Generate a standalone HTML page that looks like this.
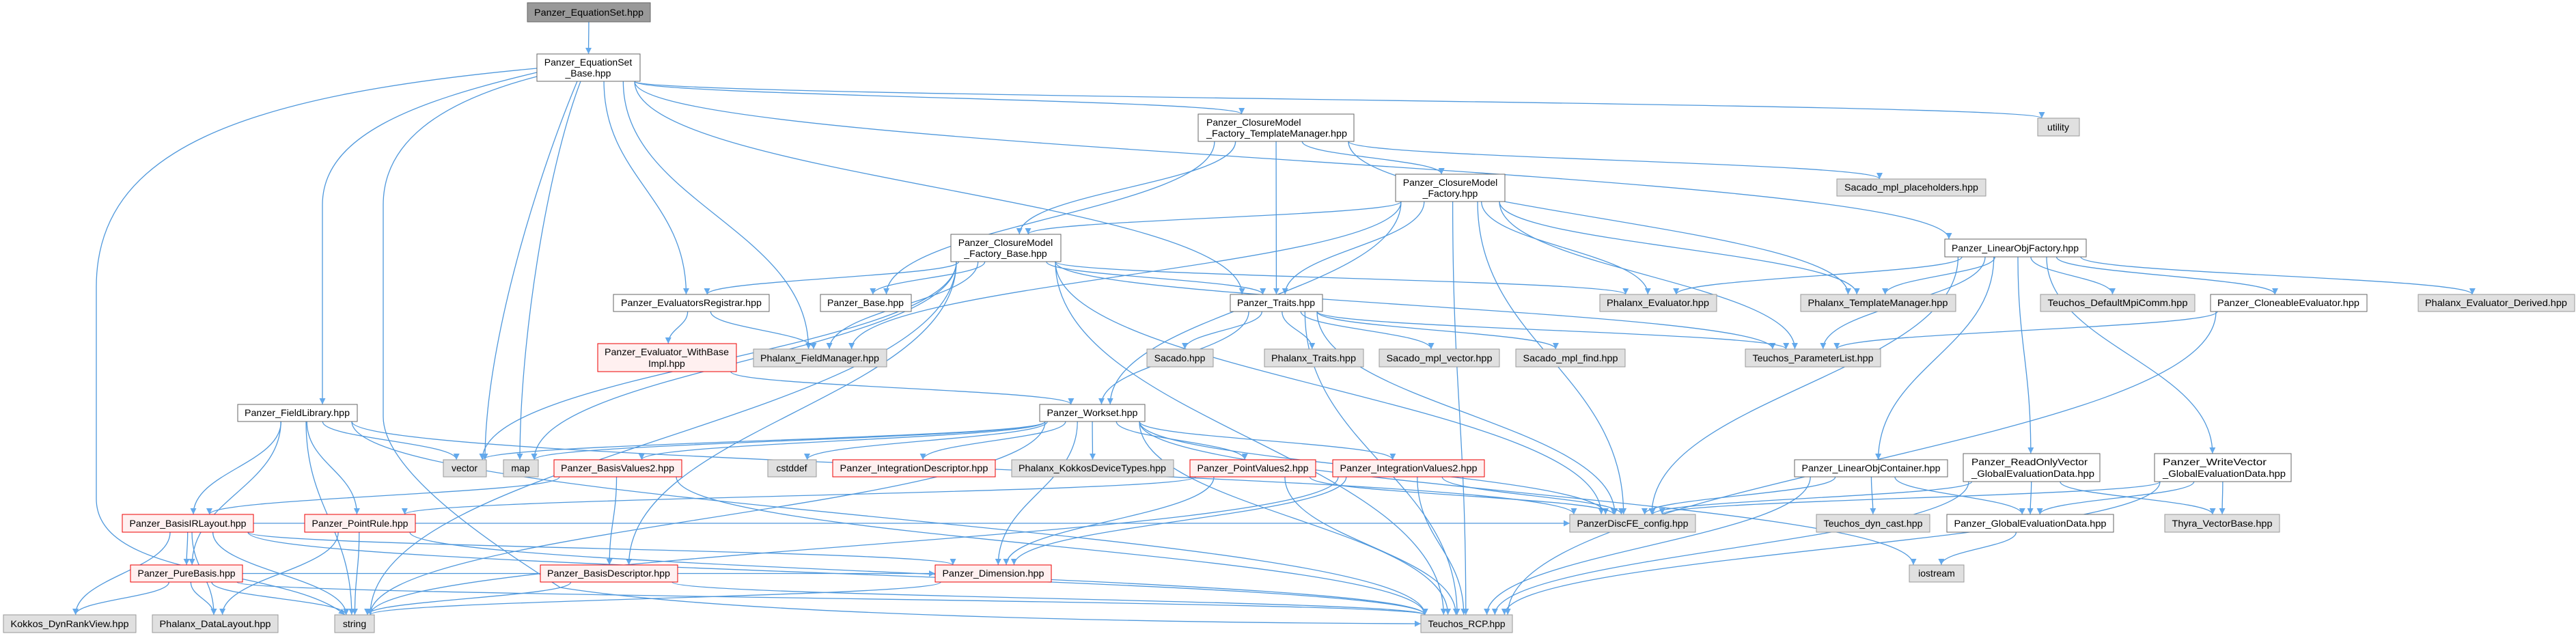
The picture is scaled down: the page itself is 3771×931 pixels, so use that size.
<!DOCTYPE html>
<html><head><meta charset="utf-8"><style>
html,body{margin:0;padding:0;background:#fff;}
svg{display:block;}
text{font-family:"Liberation Sans",sans-serif;font-size:14px;fill:#000;}
</style></head><body>
<svg id="g" xmlns="http://www.w3.org/2000/svg" width="3771" height="931" viewBox="0 0 3771 931">
<defs><marker id="a" viewBox="0 0 10 10" refX="10" refY="5" markerWidth="9" markerHeight="9" markerUnits="userSpaceOnUse" orient="auto"><path d="M0,0L10,5L0,10z" fill="#63a9ec"/></marker></defs>
<g id="edges" fill="none" stroke="#4f98dc" stroke-width="1.3"></g>
<g id="nodes">
<rect x="772" y="4" width="180" height="28" fill="#999" stroke="#666"/><text x="862" y="23" text-anchor="middle" textLength="160" lengthAdjust="spacingAndGlyphs">Panzer_EquationSet.hpp</text>
<rect x="786" y="79" width="151" height="40" fill="#fff" stroke="#666"/><text x="861" y="96" text-anchor="middle">Panzer_EquationSet</text><text x="861" y="112" text-anchor="middle">_Base.hpp</text>
<rect x="1754" y="167" width="228" height="40" fill="#fff" stroke="#666"/><text x="1766" y="184">Panzer_ClosureModel</text><text x="1766" y="200" textLength="206" lengthAdjust="spacingAndGlyphs">_Factory_TemplateManager.hpp</text>
<rect x="2983" y="173" width="61" height="26" fill="#e0e0e0" stroke="#999"/><text x="3013" y="191" text-anchor="middle">utility</text>
<rect x="2043" y="255" width="160" height="40" fill="#fff" stroke="#666"/><text x="2123" y="272" text-anchor="middle">Panzer_ClosureModel</text><text x="2123" y="288" text-anchor="middle">_Factory.hpp</text>
<rect x="2689" y="262" width="218" height="25" fill="#e0e0e0" stroke="#999"/><text x="2798" y="279" text-anchor="middle" textLength="196" lengthAdjust="spacingAndGlyphs">Sacado_mpl_placeholders.hpp</text>
<rect x="1392" y="343" width="161" height="40" fill="#fff" stroke="#666"/><text x="1472" y="360" text-anchor="middle">Panzer_ClosureModel</text><text x="1472" y="376" text-anchor="middle">_Factory_Base.hpp</text>
<rect x="2847" y="350" width="207" height="26" fill="#fff" stroke="#666"/><text x="2950" y="368" text-anchor="middle" textLength="186" lengthAdjust="spacingAndGlyphs">Panzer_LinearObjFactory.hpp</text>
<rect x="898" y="431" width="228" height="25" fill="#fff" stroke="#666"/><text x="1012" y="448" text-anchor="middle" textLength="206" lengthAdjust="spacingAndGlyphs">Panzer_EvaluatorsRegistrar.hpp</text>
<rect x="1201" y="431" width="133" height="25" fill="#fff" stroke="#666"/><text x="1267" y="448" text-anchor="middle" textLength="112" lengthAdjust="spacingAndGlyphs">Panzer_Base.hpp</text>
<rect x="1801" y="431" width="135" height="25" fill="#fff" stroke="#666"/><text x="1868" y="448" text-anchor="middle" textLength="114" lengthAdjust="spacingAndGlyphs">Panzer_Traits.hpp</text>
<rect x="2342" y="431" width="171" height="25" fill="#e0e0e0" stroke="#999"/><text x="2427" y="448" text-anchor="middle" textLength="150" lengthAdjust="spacingAndGlyphs">Phalanx_Evaluator.hpp</text>
<rect x="2636" y="431" width="227" height="25" fill="#e0e0e0" stroke="#999"/><text x="2749" y="448" text-anchor="middle" textLength="205" lengthAdjust="spacingAndGlyphs">Phalanx_TemplateManager.hpp</text>
<rect x="2987" y="431" width="226" height="25" fill="#e0e0e0" stroke="#999"/><text x="3100" y="448" text-anchor="middle" textLength="205" lengthAdjust="spacingAndGlyphs">Teuchos_DefaultMpiComm.hpp</text>
<rect x="3236" y="431" width="229" height="25" fill="#fff" stroke="#666"/><text x="3350" y="448" text-anchor="middle" textLength="208" lengthAdjust="spacingAndGlyphs">Panzer_CloneableEvaluator.hpp</text>
<rect x="3540" y="431" width="229" height="25" fill="#e0e0e0" stroke="#999"/><text x="3654" y="448" text-anchor="middle" textLength="208" lengthAdjust="spacingAndGlyphs">Phalanx_Evaluator_Derived.hpp</text>
<rect x="875" y="503" width="203" height="41" fill="#fff0f0" stroke="#e00"/><text x="976" y="520" text-anchor="middle" textLength="182" lengthAdjust="spacingAndGlyphs">Panzer_Evaluator_WithBase</text><text x="976" y="537" text-anchor="middle">Impl.hpp</text>
<rect x="1103" y="511" width="195" height="26" fill="#e0e0e0" stroke="#999"/><text x="1200" y="529" text-anchor="middle" textLength="174" lengthAdjust="spacingAndGlyphs">Phalanx_FieldManager.hpp</text>
<rect x="1679" y="511" width="97" height="26" fill="#e0e0e0" stroke="#999"/><text x="1727" y="529" text-anchor="middle">Sacado.hpp</text>
<rect x="1851" y="511" width="145" height="26" fill="#e0e0e0" stroke="#999"/><text x="1923" y="529" text-anchor="middle" textLength="124" lengthAdjust="spacingAndGlyphs">Phalanx_Traits.hpp</text>
<rect x="2019" y="511" width="176" height="26" fill="#e0e0e0" stroke="#999"/><text x="2107" y="529" text-anchor="middle" textLength="155" lengthAdjust="spacingAndGlyphs">Sacado_mpl_vector.hpp</text>
<rect x="2219" y="511" width="160" height="26" fill="#e0e0e0" stroke="#999"/><text x="2299" y="529" text-anchor="middle" textLength="139" lengthAdjust="spacingAndGlyphs">Sacado_mpl_find.hpp</text>
<rect x="2555" y="511" width="198" height="26" fill="#e0e0e0" stroke="#999"/><text x="2654" y="529" text-anchor="middle" textLength="177" lengthAdjust="spacingAndGlyphs">Teuchos_ParameterList.hpp</text>
<rect x="348" y="592" width="175" height="25" fill="#fff" stroke="#666"/><text x="435" y="609" text-anchor="middle" textLength="154" lengthAdjust="spacingAndGlyphs">Panzer_FieldLibrary.hpp</text>
<rect x="1522" y="592" width="154" height="25" fill="#fff" stroke="#666"/><text x="1599" y="609" text-anchor="middle" textLength="133" lengthAdjust="spacingAndGlyphs">Panzer_Workset.hpp</text>
<rect x="649" y="673" width="63" height="25" fill="#e0e0e0" stroke="#999"/><text x="680" y="690" text-anchor="middle">vector</text>
<rect x="737" y="673" width="51" height="25" fill="#e0e0e0" stroke="#999"/><text x="762" y="690" text-anchor="middle">map</text>
<rect x="811" y="673" width="187" height="25" fill="#fff0f0" stroke="#e00"/><text x="904" y="690" text-anchor="middle" textLength="166" lengthAdjust="spacingAndGlyphs">Panzer_BasisValues2.hpp</text>
<rect x="1124" y="673" width="71" height="25" fill="#e0e0e0" stroke="#999"/><text x="1159" y="690" text-anchor="middle">cstddef</text>
<rect x="1219" y="673" width="238" height="25" fill="#fff0f0" stroke="#e00"/><text x="1338" y="690" text-anchor="middle" textLength="217" lengthAdjust="spacingAndGlyphs">Panzer_IntegrationDescriptor.hpp</text>
<rect x="1481" y="673" width="237" height="25" fill="#e0e0e0" stroke="#999"/><text x="1599" y="690" text-anchor="middle" textLength="216" lengthAdjust="spacingAndGlyphs">Phalanx_KokkosDeviceTypes.hpp</text>
<rect x="1742" y="673" width="184" height="25" fill="#fff0f0" stroke="#e00"/><text x="1834" y="690" text-anchor="middle" textLength="163" lengthAdjust="spacingAndGlyphs">Panzer_PointValues2.hpp</text>
<rect x="1951" y="673" width="222" height="25" fill="#fff0f0" stroke="#e00"/><text x="2062" y="690" text-anchor="middle" textLength="201" lengthAdjust="spacingAndGlyphs">Panzer_IntegrationValues2.hpp</text>
<rect x="2627" y="673" width="224" height="25" fill="#fff" stroke="#666"/><text x="2739" y="690" text-anchor="middle" textLength="203" lengthAdjust="spacingAndGlyphs">Panzer_LinearObjContainer.hpp</text>
<rect x="2874" y="664" width="200" height="41" fill="#fff" stroke="#666"/><text x="2886" y="681" textLength="170" lengthAdjust="spacingAndGlyphs">Panzer_ReadOnlyVector</text><text x="2886" y="698" textLength="180" lengthAdjust="spacingAndGlyphs">_GlobalEvaluationData.hpp</text>
<rect x="3154" y="664" width="200" height="41" fill="#fff" stroke="#666"/><text x="3166" y="681" textLength="152" lengthAdjust="spacingAndGlyphs">Panzer_WriteVector</text><text x="3166" y="698" textLength="180" lengthAdjust="spacingAndGlyphs">_GlobalEvaluationData.hpp</text>
<rect x="179" y="753" width="192" height="26" fill="#fff0f0" stroke="#e00"/><text x="275" y="771" text-anchor="middle" textLength="171" lengthAdjust="spacingAndGlyphs">Panzer_BasisIRLayout.hpp</text>
<rect x="446" y="753" width="162" height="26" fill="#fff0f0" stroke="#e00"/><text x="527" y="771" text-anchor="middle" textLength="141" lengthAdjust="spacingAndGlyphs">Panzer_PointRule.hpp</text>
<rect x="2298" y="753" width="184" height="26" fill="#e0e0e0" stroke="#999"/><text x="2390" y="771" text-anchor="middle" textLength="163" lengthAdjust="spacingAndGlyphs">PanzerDiscFE_config.hpp</text>
<rect x="2659" y="753" width="166" height="26" fill="#e0e0e0" stroke="#999"/><text x="2742" y="771" text-anchor="middle" textLength="145" lengthAdjust="spacingAndGlyphs">Teuchos_dyn_cast.hpp</text>
<rect x="2850" y="753" width="244" height="26" fill="#fff" stroke="#666"/><text x="2972" y="771" text-anchor="middle" textLength="223" lengthAdjust="spacingAndGlyphs">Panzer_GlobalEvaluationData.hpp</text>
<rect x="3169" y="753" width="168" height="26" fill="#e0e0e0" stroke="#999"/><text x="3253" y="771" text-anchor="middle" textLength="147" lengthAdjust="spacingAndGlyphs">Thyra_VectorBase.hpp</text>
<rect x="191" y="827" width="164" height="25" fill="#fff0f0" stroke="#e00"/><text x="273" y="844" text-anchor="middle" textLength="143" lengthAdjust="spacingAndGlyphs">Panzer_PureBasis.hpp</text>
<rect x="791" y="827" width="201" height="25" fill="#fff0f0" stroke="#e00"/><text x="891" y="844" text-anchor="middle" textLength="180" lengthAdjust="spacingAndGlyphs">Panzer_BasisDescriptor.hpp</text>
<rect x="1369" y="827" width="170" height="25" fill="#fff0f0" stroke="#e00"/><text x="1454" y="844" text-anchor="middle" textLength="149" lengthAdjust="spacingAndGlyphs">Panzer_Dimension.hpp</text>
<rect x="2795" y="827" width="80" height="25" fill="#e0e0e0" stroke="#999"/><text x="2835" y="844" text-anchor="middle">iostream</text>
<rect x="5" y="900" width="194" height="26" fill="#e0e0e0" stroke="#999"/><text x="102" y="918" text-anchor="middle" textLength="173" lengthAdjust="spacingAndGlyphs">Kokkos_DynRankView.hpp</text>
<rect x="223" y="900" width="184" height="26" fill="#e0e0e0" stroke="#999"/><text x="315" y="918" text-anchor="middle" textLength="163" lengthAdjust="spacingAndGlyphs">Phalanx_DataLayout.hpp</text>
<rect x="490" y="900" width="58" height="26" fill="#e0e0e0" stroke="#999"/><text x="519" y="918" text-anchor="middle">string</text>
<rect x="2080" y="900" width="134" height="26" fill="#e0e0e0" stroke="#999"/><text x="2147" y="918" text-anchor="middle" textLength="113" lengthAdjust="spacingAndGlyphs">Teuchos_RCP.hpp</text>
</g>
</svg>
<script>
var N={EqSet:[772,952,4,32],EqBase:[786,937,79,119],CTM:[1754,1982,167,207],util:[2983,3044,173,199],CF:[2043,2203,255,295],SPH:[2689,2907,262,287],CB:[1392,1553,343,383],LOF:[2847,3054,350,376],ER:[898,1126,431,456],PB:[1201,1334,431,456],TR:[1801,1936,431,456],PE:[2342,2513,431,456],PTM:[2636,2863,431,456],TDM:[2987,3213,431,456],CE:[3236,3465,431,456],PED:[3540,3769,431,456],EWB:[875,1078,503,544],PFM:[1103,1298,511,537],SAC:[1679,1776,511,537],PT:[1851,1996,511,537],SMV:[2019,2195,511,537],SMF:[2219,2379,511,537],TPL:[2555,2753,511,537],FL:[348,523,592,617],WS:[1522,1676,592,617],vec:[649,712,673,698],map:[737,788,673,698],BV2:[811,998,673,698],cst:[1124,1195,673,698],ID:[1219,1457,673,698],KDT:[1481,1718,673,698],PV2:[1742,1926,673,698],IV2:[1951,2173,673,698],LOC:[2627,2851,673,698],ROV:[2874,3074,664,705],WV:[3154,3354,664,705],BIR:[179,371,753,779],PR:[446,608,753,779],DFE:[2298,2482,753,779],TDC:[2659,2825,753,779],GED:[2850,3094,753,779],THY:[3169,3337,753,779],PUB:[191,355,827,852],BD:[791,992,827,852],DIM:[1369,1539,827,852],ios:[2795,2875,827,852],KOK:[5,199,900,926],PDL:[223,407,900,926],str:[490,548,900,926],RCP:[2080,2214,900,926]};
var O={"EqBase-str":"M786,100 C350,140 141,220 141,420 L141,730 C141,850 420,830 505,900",
"EqBase-RCP":"M786,112 C640,150 561,210 561,300 L561,610 C561,700 760,820 820,860 C1100,905 1800,912 2080,913",
"EqBase-FL":"M786,106 C600,150 472,200 472,300 L472,592",
"EqBase-vec":"M845,119 C790,250 710,500 710,673",
"EqBase-map":"M850,119 C800,250 761,500 761,673"};
var E=[["EqSet","EqBase"],["EqBase","util"],["EqBase","LOF"],["EqBase","CTM"],["EqBase","TR"],["EqBase","ER"],["EqBase","PFM"],["EqBase","FL"],["EqBase","vec"],["EqBase","map"],["EqBase","str"],["EqBase","RCP"],
["CTM","CB"],["CTM","PB"],["CTM","TR"],["CTM","CF"],["CTM","SPH"],["CTM","PTM"],
["CF","CB"],["CF","TR"],["CF","PFM"],["CF","PE"],["CF","TPL"],["CF","DFE"],["CF","RCP"],["CF","WS"],["CF","PTM"],
["CB","ER"],["CB","PB"],["CB","PFM"],["CB","TR"],["CB","PE"],["CB","TPL"],["CB","str"],["CB","vec"],["CB","RCP"],["CB","DFE"],["CB","BD"],["CB","map"],
["ER","PFM"],["ER","EWB"],["EWB","WS"],
["TR","SAC"],["TR","PT"],["TR","SMV"],["TR","SMF"],["TR","WS"],["TR","TPL"],["TR","DFE"],["TR","RCP"],
["WS","vec"],["WS","map"],["WS","cst"],["WS","ID"],["WS","KDT"],["WS","PV2"],["WS","IV2"],["WS","BV2"],["WS","DIM"],["WS","DFE"],["WS","RCP"],["WS","ios"],["WS","str"],
["FL","vec"],["FL","BIR"],["FL","PR"],["FL","PUB"],["FL","str"],["FL","RCP"],["FL","DFE"],
["BV2","BIR"],["BV2","RCP"],["BV2","BD"],["PV2","PR"],["PV2","DIM"],["PV2","RCP"],["PV2","DFE"],["IV2","DIM"],["IV2","RCP"],["IV2","DFE"],["IV2","str"],
["BIR","PUB"],["BIR","KOK"],["BIR","PDL"],["BIR","str"],["BIR","RCP"],["BIR","DIM"],["BIR","DFE"],["PR","PDL"],["PR","RCP"],["PR","str"],
["PUB","KOK"],["PUB","PDL"],["PUB","str"],["PUB","RCP"],["PUB","DIM"],["BD","str"],["BD","RCP"],["DIM","str"],
["LOF","PE"],["LOF","PTM"],["LOF","TDM"],["LOF","CE"],["LOF","PED"],["LOF","LOC"],["LOF","ROV"],["LOF","WV"],["LOF","DFE"],["LOF","TPL"],
["CE","TPL"],["CE","RCP"],["LOC","DFE"],["LOC","TDC"],["LOC","GED"],["LOC","RCP"],["ROV","GED"],["ROV","DFE"],["ROV","THY"],["ROV","RCP"],["WV","GED"],["WV","THY"],["WV","DFE"],["WV","RCP"],["GED","ios"]];
var g=document.getElementById("edges"),s="";
E.forEach(function(e){var k=e[0]+"-"+e[1];var d;
if(O[k]){d=O[k];}else{var a=N[e[0]],b=N[e[1]];var ac=(a[0]+a[1])/2,bc=(b[0]+b[1])/2;var x1,y1,x2,y2;
if(b[2]>a[3]+5){var dx=bc-ac,hw=(a[1]-a[0])/2-8;x1=ac+Math.max(-hw,Math.min(hw,dx*0.15));y1=a[3];
var hb=(b[1]-b[0])/2-6;x2=bc+Math.max(-hb,Math.min(hb,-dx*0.05));y2=b[2];var my=(y2-y1);
d="M"+x1+","+y1+" C"+x1+","+(y1+my*0.45)+" "+x2+","+(y2-my*0.45)+" "+x2+","+y2;}
else{x1=a[1];y1=(a[2]+a[3])/2;x2=b[0];y2=(b[2]+b[3])/2;if(bc<ac){x1=a[0];x2=b[1];}d="M"+x1+","+y1+" C"+((x1+x2)/2)+","+y1+" "+((x1+x2)/2)+","+y2+" "+x2+","+y2;}}
s+='<path d="'+d+'" marker-end="url(#a)"/>';});
g.innerHTML=s;
</script>
</body></html>
